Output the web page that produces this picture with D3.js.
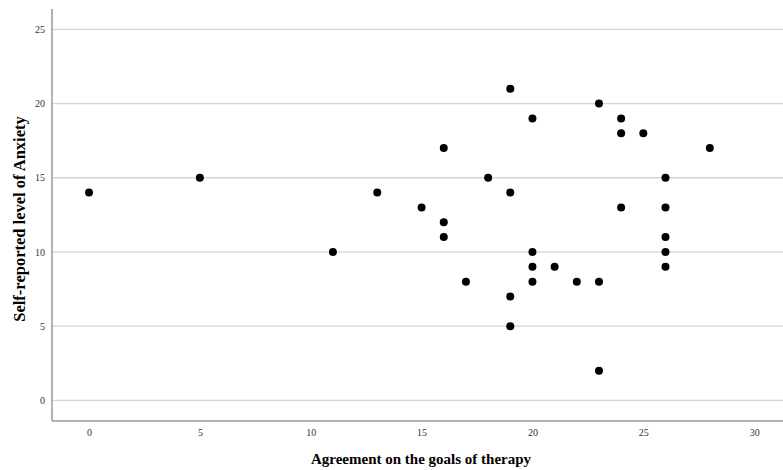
<!DOCTYPE html>
<html lang="en">
<head>
    <meta charset="UTF-8">
    <title>Agreement vs Anxiety</title>
    <script src="https://d3js.org/d3.v7.min.js"></script>
    <style>
        body { margin: 0; background: #fff; }
        text { font-family: "Liberation Serif", "Times New Roman", serif; }
    </style>
</head>
<body>
    <script>
        // Agreement on the goals of therapy (x) vs self-reported anxiety (y)
        const agreement = [0, 5, 11, 13, 15, 16, 16, 16, 17, 18, 19, 19, 19, 19, 20, 20, 20, 20,
                           21, 22, 23, 23, 23, 24, 24, 24, 25, 26, 26, 26, 26, 26, 28];
        const anxiety   = [14, 15, 10, 14, 13, 17, 12, 11, 8, 15, 21, 14, 7, 5, 19, 10, 9, 8,
                           9, 8, 20, 8, 2, 19, 18, 13, 18, 15, 13, 11, 10, 9, 17];
        const xTicks = [0, 5, 10, 15, 20, 25, 30];
        const yTicks = [0, 5, 10, 15, 20, 25];

        const width = 783;
        const height = 470;
        const plotLeft = 52, plotRight = 783, plotTop = 9, plotBottom = 421;

        const svg = d3.select("body").append("svg")
            .attr("width", width)
            .attr("height", height);

        const x = d3.scaleLinear().domain([-1.67, 31.3]).range([plotLeft, plotRight]);
        const y = d3.scaleLinear().domain([-1.39, 26.37]).range([plotBottom, plotTop]);

        // horizontal grid lines
        svg.selectAll(".grid")
            .data(yTicks)
            .enter().append("line")
            .attr("class", "grid")
            .attr("x1", plotLeft)
            .attr("x2", plotRight)
            .attr("y1", d => y(d))
            .attr("y2", d => y(d))
            .style("stroke", "#d4d4d4")
            .style("stroke-width", 1.3);

        // axes
        const xAxis = svg.append("g")
            .attr("transform", `translate(0,${plotBottom})`)
            .call(d3.axisBottom(x).tickValues(xTicks).tickSize(0).tickPadding(8));
        const yAxis = svg.append("g")
            .attr("transform", `translate(${plotLeft},0)`)
            .call(d3.axisLeft(y).tickValues(yTicks).tickSize(0).tickPadding(7));

        [xAxis, yAxis].forEach(g => {
            g.select(".domain").remove();
            g.selectAll("text")
                .style("font-family", "'Liberation Serif', serif")
                .style("font-size", "10px")
                .style("fill", "#333");
        });

        svg.append("line")
            .attr("x1", plotLeft).attr("x2", plotLeft)
            .attr("y1", plotTop).attr("y2", plotBottom)
            .style("stroke", "#999")
            .style("stroke-width", 1.5);
        svg.append("line")
            .attr("x1", plotLeft).attr("x2", plotRight)
            .attr("y1", plotBottom).attr("y2", plotBottom)
            .style("stroke", "#999")
            .style("stroke-width", 1.5);

        // points
        svg.selectAll(".dot")
            .data(agreement.map((a, i) => ({ a: a, b: anxiety[i] })))
            .enter().append("circle")
            .attr("class", "dot")
            .attr("cx", d => x(d.a))
            .attr("cy", d => y(d.b))
            .attr("r", 4)
            .style("fill", "#000");

        // axis titles
        svg.append("text")
            .attr("x", 421)
            .attr("y", 464)
            .attr("text-anchor", "middle")
            .style("font-size", "15px")
            .style("font-weight", "bold")
            .text("Agreement on the goals of therapy");

        svg.append("text")
            .attr("transform", "translate(25,219) rotate(-90)")
            .attr("text-anchor", "middle")
            .style("font-size", "16.5px")
            .style("font-weight", "bold")
            .text("Self-reported level of Anxiety");
    </script>
</body>
</html>
